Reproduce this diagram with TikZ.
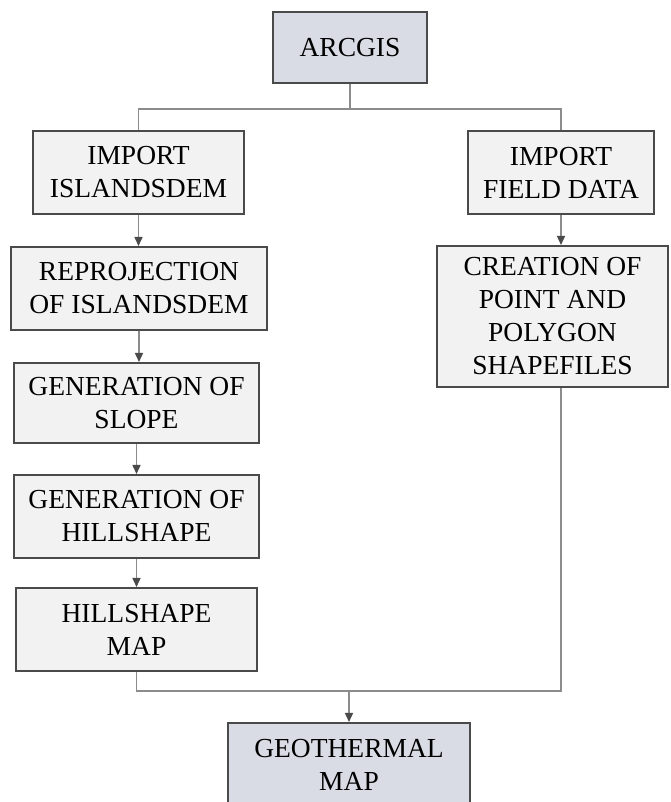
\documentclass[tikz,border=0pt]{standalone}
\usepackage{fontspec}
\setmainfont{Liberation Serif}
\usepackage{tikz}
\usetikzlibrary{arrows.meta}
\definecolor{boxfill}{HTML}{F2F2F2}
\definecolor{endfill}{HTML}{D9DCE5}
\definecolor{boxline}{HTML}{4A4A4A}
\definecolor{linkline}{HTML}{8C8C8C}
\tikzstyle{stepbox} = [
    draw=boxline,
    fill=boxfill,
    line width=2pt,
    rectangle,
    align=center,
    inner sep=0pt,
    font=\fontsize{27.5}{33}\selectfont
    ]
\tikzstyle{endbox} = [stepbox, fill=endfill]
\tikzstyle{link} = [draw=linkline, line width=1.5pt]
\tikzstyle{arrow} = [link, -{Triangle[length=9pt,width=8pt,color=boxline]}]

\begin{document}
\begin{tikzpicture}[x=1pt,y=1pt]
\useasboundingbox (0,0) rectangle (670,802);
\fill[white] (0,0) rectangle (670,802);

\node [endbox, minimum width=154, minimum height=71] (arcgis) at (350,754.5) {ARCGIS};

% left branch
\node [stepbox, minimum width=211, minimum height=83] (islands) at (138.5,629.5) {IMPORT\\ISLANDSDEM};
\node [stepbox, minimum width=256, minimum height=83] (reproj) at (139,513.5) {REPROJECTION\\OF ISLANDSDEM};
\node [stepbox, minimum width=245, minimum height=80] (slope) at (136.5,399) {GENERATION OF\\SLOPE};
\node [stepbox, minimum width=245, minimum height=83] (genhill) at (136.5,285.5) {GENERATION OF\\HILLSHAPE};
\node [stepbox, minimum width=241, minimum height=83] (hillmap) at (136.5,172.5) {HILLSHAPE\\MAP};

% right branch
\node [stepbox, minimum width=186, minimum height=83] (field) at (561,629.5) {IMPORT\\FIELD DATA};
\node [stepbox, minimum width=231, minimum height=141] (creation) at (552.5,485.5) {CREATION OF\\POINT AND\\POLYGON\\SHAPEFILES};

\node [endbox, minimum width=242, minimum height=84] (geomap) at (349,37) {GEOTHERMAL\\MAP};

\path (arcgis.south) ++(0,-25) coordinate (split);
\path (geomap.north) ++(0,31) coordinate (join);

\draw[link] (arcgis.south) -- (split);
\draw[link] (islands.north) |- (split) -| (field.north);

\draw[arrow] (islands.south) -- (islands.south |- reproj.north);
\draw[arrow] (reproj.south) -- (reproj.south |- slope.north);
\draw[arrow] (slope.south) -- (slope.south |- genhill.north);
\draw[arrow] (genhill.south) -- (genhill.south |- hillmap.north);
\draw[arrow] (field.south) -- (field.south |- creation.north);

\draw[link] (hillmap.south) |- (join) -| (creation.south -| field.south);
\draw[arrow] (join) -- (geomap.north);
\end{tikzpicture}
\end{document}
